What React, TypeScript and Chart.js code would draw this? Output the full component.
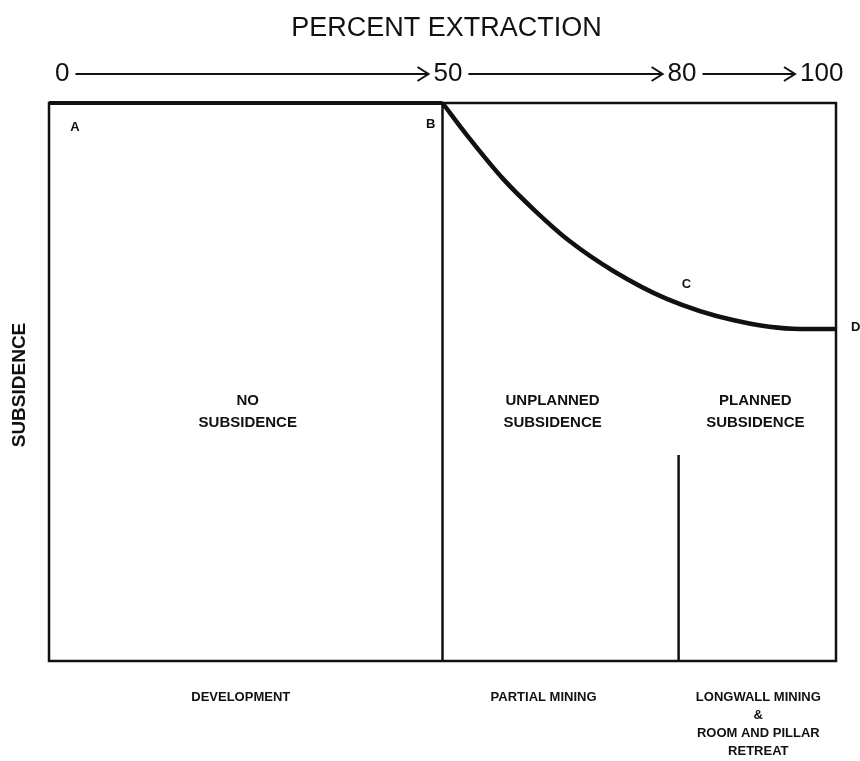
import React, { useEffect, useRef } from "react";
import { Chart, registerables } from "chart.js";

Chart.register(...registerables);

// ---- data ----
// x: percent extraction, y: subsidence (0 at top, increasing downward)
const curveX = [50, 53.4, 57.7, 61.9, 66.1, 71.7, 78.5, 86.9, 95.4, 100];
const curveY = [0, 6.3, 13.6, 19.5, 24.7, 30.1, 35.1, 38.9, 40.5, 40.5];
const noSubsidenceX = [0, 50];
const noSubsidenceY = [0, 0];
const divider50X = [50, 50];
const divider50Y = [0, 100];
const divider80X = [80, 80];
const divider80Y = [63.1, 100];

const tickValues = [0, 50, 80, 100];
const tickLabels = ["0", "50", "80", "100"];
const pointLetters = ["A", "B", "C", "D"];
const pointLetterX = [3.3, 48.5, 81, 102.5];
const pointLetterY = [4.3, 3.8, 32.5, 40.2];
const regionLabels = [["NO", "SUBSIDENCE"], ["UNPLANNED", "SUBSIDENCE"], ["PLANNED", "SUBSIDENCE"]];
const regionBounds = [[0, 50], [50, 80], [80, 100]];
const bottomLabels = [["DEVELOPMENT"], ["PARTIAL MINING"], ["LONGWALL MINING", "&", "ROOM AND PILLAR", "RETREAT"]];
const titleText = "PERCENT EXTRACTION";
const yTitle = "SUBSIDENCE";

const toPts = (xs: number[], ys: number[]) => xs.map((x, i) => ({ x, y: ys[i] }));

const annotations = {
  id: "annotations",
  beforeDatasetsDraw(chart: any) {
    const { ctx, chartArea: a } = chart;
    ctx.save();
    ctx.strokeStyle = "#111";
    ctx.lineWidth = 2.5;
    ctx.strokeRect(a.left, a.top, a.right - a.left, a.bottom - a.top);
    ctx.restore();
  },
  afterDraw(chart: any) {
    const { ctx, chartArea: a, scales } = chart;
    const xs = scales.x;
    const ys = scales.y;
    ctx.save();
    ctx.fillStyle = "#111";
    ctx.strokeStyle = "#111";
    ctx.textBaseline = "middle";

    // title
    ctx.font = "27px 'Liberation Sans', Arial, sans-serif";
    ctx.textAlign = "center";
    ctx.fillText(titleText, (a.left + a.right) / 2 + 4, 29);

    // top scale with arrows
    const labelLeftOffsets = [6, -9, -11, -36];
    const ty = 74;
    ctx.font = "26px 'Liberation Sans', Arial, sans-serif";
    ctx.textAlign = "left";
    const spans: number[][] = [];
    tickValues.forEach((v, i) => {
      const l = xs.getPixelForValue(v) + labelLeftOffsets[i];
      const w = ctx.measureText(tickLabels[i]).width;
      ctx.fillText(tickLabels[i], l, ty);
      spans.push([l, l + w]);
    });
    ctx.lineWidth = 2;
    for (let i = 0; i < spans.length - 1; i++) {
      const s = spans[i][1] + 6;
      const e = spans[i + 1][0] - 5;
      ctx.beginPath();
      ctx.moveTo(s, ty);
      ctx.lineTo(e, ty);
      ctx.moveTo(e - 11, ty - 7);
      ctx.lineTo(e, ty);
      ctx.lineTo(e - 11, ty + 7);
      ctx.stroke();
    }

    // point letters
    ctx.font = "bold 13px 'Liberation Sans', Arial, sans-serif";
    ctx.textAlign = "center";
    pointLetters.forEach((t, i) => {
      ctx.fillText(t, xs.getPixelForValue(pointLetterX[i]), ys.getPixelForValue(pointLetterY[i]));
    });

    // region labels
    ctx.font = "bold 15px 'Liberation Sans', Arial, sans-serif";
    const regionNudge = [2, -8, -2];
    regionLabels.forEach((lines, i) => {
      const cx = (xs.getPixelForValue(regionBounds[i][0]) + xs.getPixelForValue(regionBounds[i][1])) / 2 + regionNudge[i];
      lines.forEach((t, j) => {
        ctx.fillText(t, cx, ys.getPixelForValue(53.3 + j * 3.95));
      });
    });

    // bottom labels
    ctx.font = "bold 13px 'Liberation Sans', Arial, sans-serif";
    const bottomNudge = [-5, -17, 1];
    bottomLabels.forEach((lines, i) => {
      const cx = (xs.getPixelForValue(regionBounds[i][0]) + xs.getPixelForValue(regionBounds[i][1])) / 2 + bottomNudge[i];
      lines.forEach((t, j) => {
        ctx.fillText(t, cx, a.bottom + 36 + j * 18);
      });
    });

    // y title
    ctx.font = "bold 19px 'Liberation Sans', Arial, sans-serif";
    ctx.translate(20, (a.top + a.bottom) / 2 + 3);
    ctx.rotate(-Math.PI / 2);
    ctx.fillText(yTitle, 0, 0);
    ctx.restore();
  },
};

export default function App() {
  const ref = useRef<HTMLCanvasElement | null>(null);
  useEffect(() => {
    document.body.style.margin = "0";
    document.body.style.background = "#fff";
    const canvas = ref.current;
    if (!canvas) return;
    const lineDs = (data: any[], w: number) => ({
      data,
      borderColor: "#111",
      borderWidth: w,
      pointRadius: 0,
      fill: false,
      clip: false as any,
      tension: 0,
    });
    const chart = new Chart(canvas, {
      type: "line",
      data: {
        datasets: [
          lineDs(toPts(noSubsidenceX, noSubsidenceY), 4),
          lineDs(toPts(divider50X, divider50Y), 2.5),
          lineDs(toPts(divider80X, divider80Y), 2.5),
          { ...lineDs(toPts(curveX, curveY), 4.5), cubicInterpolationMode: "monotone" as const },
        ],
      },
      options: {
        animation: false,
        responsive: false,
        maintainAspectRatio: false,
        layout: { padding: { left: 49, right: 24, top: 103, bottom: 100 } },
        plugins: { legend: { display: false }, tooltip: { enabled: false }, title: { display: false } },
        scales: {
          x: { type: "linear", min: 0, max: 100, display: false },
          y: { type: "linear", min: 0, max: 100, reverse: true, display: false },
        },
      },
      plugins: [annotations],
    });
    return () => chart.destroy();
  }, []);
  return (
    <div style={{ width: 860, height: 761, background: "#fff" }}>
      <canvas ref={ref} width={860} height={761} style={{ display: "block", width: 860, height: 761 }} />
    </div>
  );
}
